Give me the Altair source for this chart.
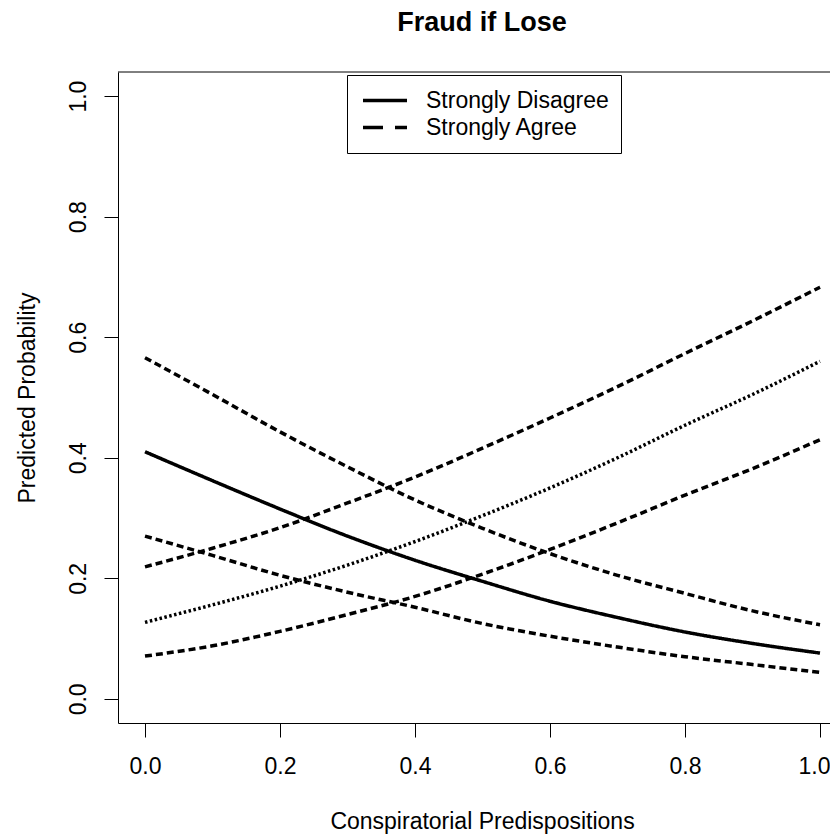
import altair as alt
import pandas as pd

# ---- data ----
x_vals = [0.0, 0.1, 0.2, 0.3, 0.4, 0.5, 0.6, 0.7, 0.8, 0.9, 1.0]
disagree_mean = [0.410, 0.362, 0.315, 0.270, 0.230, 0.195, 0.162, 0.135, 0.111, 0.092, 0.076]
disagree_upper = [0.566, 0.505, 0.443, 0.385, 0.330, 0.283, 0.241, 0.205, 0.175, 0.146, 0.123]
disagree_lower = [0.270, 0.238, 0.205, 0.177, 0.152, 0.125, 0.104, 0.086, 0.070, 0.057, 0.044]
agree_mean = [0.127, 0.156, 0.187, 0.222, 0.261, 0.304, 0.350, 0.400, 0.454, 0.505, 0.560]
agree_upper = [0.219, 0.250, 0.284, 0.325, 0.368, 0.416, 0.466, 0.518, 0.573, 0.627, 0.683]
agree_lower = [0.071, 0.088, 0.112, 0.140, 0.170, 0.207, 0.248, 0.292, 0.338, 0.382, 0.430]

x_ticks = [0.0, 0.2, 0.4, 0.6, 0.8, 1.0]
y_ticks = [0.0, 0.2, 0.4, 0.6, 0.8, 1.0]
legend_labels = ["Strongly Disagree", "Strongly Agree"]

series = [
    ("disagree_mean", "Strongly Disagree", disagree_mean),
    ("disagree_upper", "ci", disagree_upper),
    ("disagree_lower", "ci", disagree_lower),
    ("agree_mean", "agree_mean", agree_mean),
    ("agree_upper", "ci", agree_upper),
    ("agree_lower", "ci", agree_lower),
]
rows = []
for sid, style, vals in series:
    for xv, yv in zip(x_vals, vals):
        rows.append({"id": sid, "style": style, "x": xv, "y": yv})
df = pd.DataFrame(rows)

W, H = 712, 651
X_DOMAIN = [-0.04, -0.04 + W / 675.0]
Y_DOMAIN = [-0.04, 1.04]
FONT = "Liberation Sans"

style_domain = ["Strongly Disagree", "Strongly Agree", "ci", "agree_mean"]

xscale = alt.Scale(domain=X_DOMAIN, nice=False, zero=False)
yscale = alt.Scale(domain=Y_DOMAIN, nice=False, zero=False)

lines = alt.Chart(df).mark_line(color="black", interpolate="monotone").encode(
    x=alt.X(
        "x:Q",
        scale=xscale,
        axis=alt.Axis(
            values=x_ticks,
            format=".1f",
            title="Conspiratorial Predispositions",
            labelPadding=18,
            labelBaseline="top",
            # keep the last label inside the page edge
            labelFlush=12,
            labelFlushOffset=10,
            titleX=364,
            titleY=105,
            titleBaseline="alphabetic",
            titleAlign="center",
        ),
    ),
    y=alt.Y(
        "y:Q",
        scale=yscale,
        axis=alt.Axis(
            values=y_ticks,
            format=".1f",
            title="Predicted Probability",
            labelAngle=270,
            labelAlign="center",
            labelBaseline="alphabetic",
            labelPadding=19,
            labelFlush=False,
            titleAngle=270,
            titleX=-83.5,
            titleY=H / 2,
            titleAlign="center",
            titleBaseline="alphabetic",
        ),
    ),
    strokeDash=alt.StrokeDash(
        "style:N",
        scale=alt.Scale(domain=style_domain, range=[[1, 0], [20, 12], [7, 4], [2.5, 2.5]]),
        legend=alt.Legend(
            values=legend_labels,
            title=None,
            orient="none",
            legendX=229,
            legendY=3,
            symbolType="stroke",
            symbolSize=1936,
            symbolStrokeWidth=4,
            symbolStrokeColor="black",
            symbolOffset=2,
            labelOffset=17,
            clipHeight=27,
            rowPadding=0,
            padding=12,
            strokeColor="black",
            fillColor="white",
            labelFont=FONT,
            labelFontSize=23,
            labelColor="black",
            labelLimit=400,
        ),
    ),
    strokeWidth=alt.StrokeWidth(
        "style:N",
        scale=alt.Scale(domain=style_domain, range=[3.5, 3.5, 1.3, 1.3]),
        legend=None,
    ),
    detail="id:N",
)

top_border = alt.Chart(pd.DataFrame({"a": [0]})).mark_rule(color="black", strokeWidth=1).encode(
    x=alt.datum(X_DOMAIN[0], scale=xscale),
    x2=alt.datum(X_DOMAIN[1]),
    y=alt.datum(Y_DOMAIN[1], scale=yscale),
)

chart = (
    alt.layer(lines, top_border)
    .properties(
        width=W,
        height=H,
        autosize=alt.AutoSizeParams(type="none"),
        padding={"left": 110, "top": 64, "right": 0, "bottom": 112},
        title=alt.TitleParams(
            "Fraud if Lose",
            font=FONT,
            fontSize=27,
            fontWeight="bold",
            color="black",
            anchor="middle",
            frame="group",
            offset=14,
            baseline="alphabetic",
            dx=8,
        ),
    )
    .configure_view(stroke=None)
    .configure_axis(
        grid=False,
        domainColor="black",
        domainWidth=1,
        tickColor="black",
        tickWidth=1,
        tickSize=14,
        labelFont=FONT,
        labelFontSize=23,
        labelColor="black",
        labelOverlap=False,
        titleFont=FONT,
        titleFontSize=23,
        titleFontWeight="normal",
        titleColor="black",
    )
)

chart.save("out.html", embed_options={"renderer": "svg", "actions": False})
